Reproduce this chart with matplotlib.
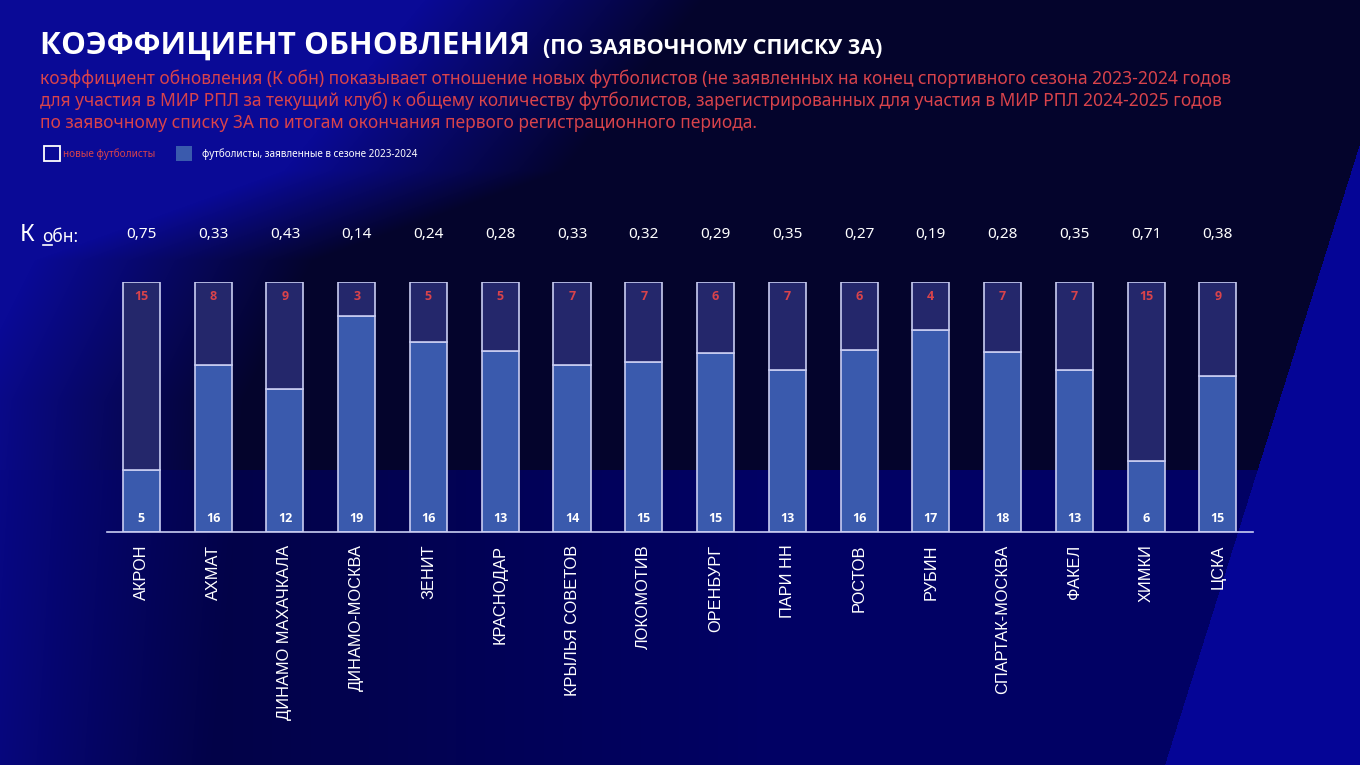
import matplotlib
matplotlib.use("Agg")
import matplotlib.pyplot as plt
import numpy as np

clubs = ["АКРОН", "АХМАТ", "ДИНАМО МАХАЧКАЛА", "ДИНАМО-МОСКВА", "ЗЕНИТ",
         "КРАСНОДАР", "КРЫЛЬЯ СОВЕТОВ", "ЛОКОМОТИВ", "ОРЕНБУРГ", "ПАРИ НН",
         "РОСТОВ", "РУБИН", "СПАРТАК-МОСКВА", "ФАКЕЛ", "ХИМКИ", "ЦСКА"]
new_players = [15, 8, 9, 3, 5, 5, 7, 7, 6, 7, 6, 4, 7, 7, 15, 9]
old_players = [5, 16, 12, 19, 16, 13, 14, 15, 15, 13, 16, 17, 18, 13, 6, 15]
k_values = ["0,75", "0,33", "0,43", "0,14", "0,24", "0,28", "0,33", "0,32",
            "0,29", "0,35", "0,27", "0,19", "0,28", "0,35", "0,71", "0,38"]

TITLE = "КОЭФФИЦИЕНТ ОБНОВЛЕНИЯ"
TITLE_SMALL = "(ПО ЗАЯВОЧНОМУ СПИСКУ 3А)"
SUBTITLE = [
    "коэффициент обновления (К обн) показывает отношение новых футболистов (не заявленных на конец спортивного сезона 2023-2024 годов",
    "для участия в МИР РПЛ за текущий клуб) к общему количеству футболистов, зарегистрированных для участия в МИР РПЛ 2024-2025 годов",
    "по заявочному списку 3А по итогам окончания первого регистрационного периода.",
]

RED = "#d9434b"
BLUE = "#3a5aad"
TOP_FILL = "#24276b"
EDGE = "#c9cdf2"

W, H = 1360, 765
fig = plt.figure(figsize=(W / 100, H / 100), dpi=100)

# background: dark navy with brighter blue areas
yy, xx = np.mgrid[0:H, 0:W].astype(float)
img = np.ones((H, W, 3)) * np.array([4, 4, 44]) / 255


def blend(base, col, w):
    w = w[..., None]
    return base * (1 - w) + np.array(col) / 255 * w


left_edge = np.interp(yy, [0, 170, 260, 400, 765], [620, 480, 230, 160, 130])
w_left = np.clip((left_edge - xx) / 280 + 0.3, 0, 1)
img = blend(img, [10, 10, 150], w_left)
w_bot = (yy >= 470) * np.clip(0.3 + xx / 1100, 0, 1) * 0.7
img = blend(img, [0, 0, 125], w_bot)
w_right = (xx > 1323 - 0.314 * (yy - 260)).astype(float)
img = blend(img, [5, 5, 150], w_right)

bg = fig.add_axes([0, 0, 1, 1], zorder=-1)
bg.imshow(img, aspect="auto", extent=[0, W, H, 0])
bg.set_xlim(0, W)
bg.set_ylim(H, 0)
bg.axis("off")

# header texts (pixel coordinates on the background axes)
title = bg.text(40, 46, TITLE, color="white", fontsize=22.5, fontweight="bold",
                family="Open Sans", va="center", ha="left")
fig.canvas.draw()
title_end = title.get_window_extent().x1
bg.text(title_end + 13, 48, TITLE_SMALL, color="white", fontsize=15.5,
        fontweight="bold", family="Open Sans", va="center", ha="left")
for i, line in enumerate(SUBTITLE):
    bg.text(40, 79 + i * 22, line, color=RED, fontsize=12.5,
            family="Noto Sans", va="center", ha="left")

# legend
bg.add_patch(plt.Rectangle((44, 146), 16, 15, facecolor="none",
                           edgecolor="white", lw=1.3))
bg.text(63, 154, "новые футболисты", color=RED, fontsize=7.2,
        family="Noto Sans", va="center")
bg.add_patch(plt.Rectangle((176, 146), 16, 15, facecolor=BLUE, edgecolor="none"))
bg.text(202, 154, "футболисты, заявленные в сезоне 2023-2024", color="white",
        fontsize=7.1, family="Noto Sans", va="center")

# K obn label
bg.text(20, 235, "К", color="white", fontsize=17, family="Noto Sans", va="center")
bg.text(42, 237, "обн:", color="white", fontsize=12.5, family="Noto Sans", va="center")
bg.plot([43, 52], [245, 245], color="white", lw=1.2)

# main chart
ax = fig.add_axes([107 / W, (H - 532) / H, (1253 - 107) / W, 250 / H])
ax.set_facecolor("none")
x = np.arange(len(clubs))
new_arr = np.array(new_players, dtype=float)
old_arr = np.array(old_players, dtype=float)
total = new_arr + old_arr
old_share = old_arr / total
new_share = new_arr / total

ax.bar(x, old_share, width=0.516, color=BLUE, edgecolor=EDGE, linewidth=1.2)
ax.bar(x, new_share, bottom=old_share, width=0.516, color=TOP_FILL,
       edgecolor=EDGE, linewidth=1.2)

for i in range(len(clubs)):
    ax.text(x[i], 0.94, str(new_players[i]), color=RED, fontsize=9,
            fontweight="bold", ha="center", va="center", family="Open Sans")
    ax.text(x[i], 0.052, str(old_players[i]), color="white", fontsize=9,
            fontweight="bold", ha="center", va="center", family="Open Sans")
    ax.text(x[i], 1.188, k_values[i], color="white", fontsize=11,
            ha="center", va="center", family="Noto Sans", clip_on=False)

ax.axhline(0, color=EDGE, lw=1.2, clip_on=False)
ax.set_xlim(-0.48, 15.49)
ax.set_ylim(0, 1)
ax.set_xticks(x, clubs, rotation=90, color="white", fontsize=11.8,
              family="Liberation Sans")
ax.tick_params(axis="x", length=0, pad=9)
ax.set_yticks([])
for s in ax.spines.values():
    s.set_visible(False)

fig.savefig("out.png", dpi=100)
